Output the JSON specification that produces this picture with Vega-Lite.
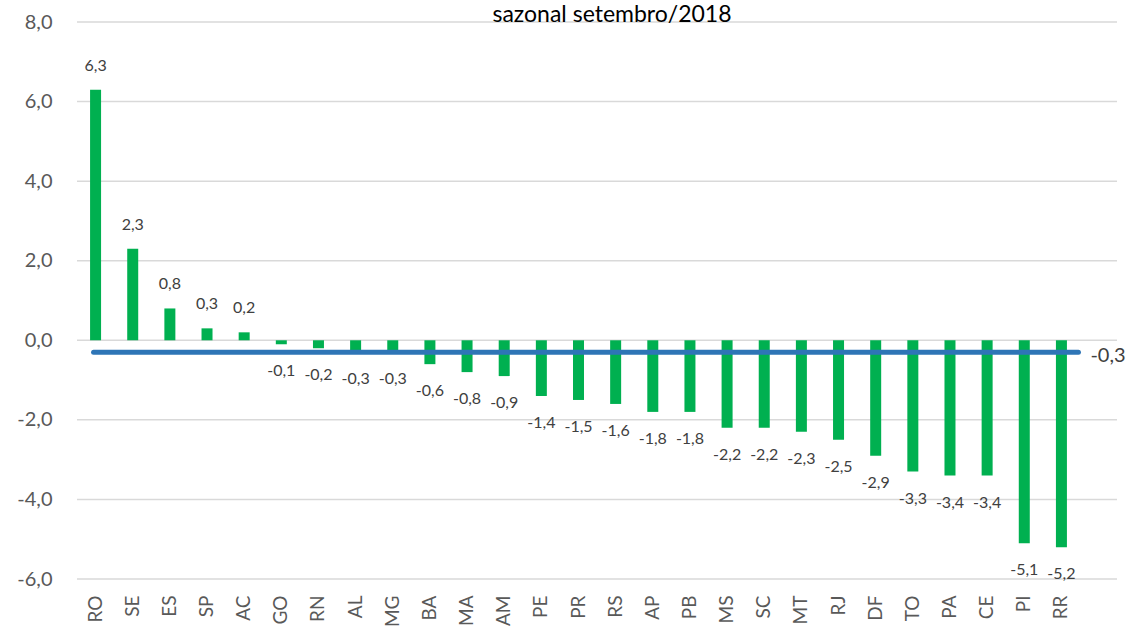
{
  "$schema": "https://vega.github.io/schema/vega-lite/v6.json",
  "autosize": {"type": "none"},
  "width": 1040,
  "height": 557,
  "padding": {"left": 77, "top": 22, "right": 15, "bottom": 52},
  "config": {
    "locale": {"number": {"decimal": ",", "thousands": ".", "grouping": [3], "currency": ["R$", ""], "minus": "-"}},
    "font": "Lato",
    "view": {"stroke": null}
  },
  "title": {"text": "sazonal  setembro/2018", "fontSize": 23, "font": "Lato", "fontWeight": "normal", "color": "#000000", "offset": 0, "baseline": "alphabetic", "dx": 15, "dy": 33},
  "datasets": {
    "grid": [{"g": -6}, {"g": -4}, {"g": -2}, {"g": 0}, {"g": 2}, {"g": 4}, {"g": 6}, {"g": 8}]
  },
  "data": {
    "values": [
      {"uf": "RO", "v": 6.3}, {"uf": "SE", "v": 2.3}, {"uf": "ES", "v": 0.8}, {"uf": "SP", "v": 0.3},
      {"uf": "AC", "v": 0.2}, {"uf": "GO", "v": -0.1}, {"uf": "RN", "v": -0.2}, {"uf": "AL", "v": -0.3},
      {"uf": "MG", "v": -0.3}, {"uf": "BA", "v": -0.6}, {"uf": "MA", "v": -0.8}, {"uf": "AM", "v": -0.9},
      {"uf": "PE", "v": -1.4}, {"uf": "PR", "v": -1.5}, {"uf": "RS", "v": -1.6}, {"uf": "AP", "v": -1.8},
      {"uf": "PB", "v": -1.8}, {"uf": "MS", "v": -2.2}, {"uf": "SC", "v": -2.2}, {"uf": "MT", "v": -2.3},
      {"uf": "RJ", "v": -2.5}, {"uf": "DF", "v": -2.9}, {"uf": "TO", "v": -3.3}, {"uf": "PA", "v": -3.4},
      {"uf": "CE", "v": -3.4}, {"uf": "PI", "v": -5.1}, {"uf": "RR", "v": -5.2}
    ]
  },
  "layer": [
    {
      "data": {"name": "grid"},
      "mark": {"type": "rule", "color": "#d9d9d9", "strokeWidth": 1.5},
      "encoding": {
        "y": {"field": "g", "type": "quantitative", "scale": {"domain": [-6, 8], "nice": false},
          "axis": {"title": null, "values": [-6, -4, -2, 0, 2, 4, 6, 8], "format": ".1f", "labelFontSize": 20, "labelColor": "#595959", "domain": false, "ticks": false, "labelPadding": 25, "grid": false}}
      }
    },
    {
      "mark": {"type": "bar", "color": "#00b050", "size": 11},
      "encoding": {
        "x": {
          "field": "uf", "type": "nominal", "sort": null,
          "scale": {"domain": ["RO","SE","ES","SP","AC","GO","RN","AL","MG","BA","MA","AM","PE","PR","RS","AP","PB","MS","SC","MT","RJ","DF","TO","PA","CE","PI","RR"], "range": [0, 1003], "paddingInner": 0, "paddingOuter": 0},
          "axis": {"title": null, "labelAngle": 270, "labelFontSize": 19, "labelColor": "#595959", "domain": false, "ticks": false, "labelPadding": 16, "grid": false}
        },
        "y": {"field": "v", "type": "quantitative"}
      }
    },
    {
      "transform": [{"filter": "datum.v >= 0"}],
      "mark": {"type": "text", "fontSize": 16, "color": "#404040", "baseline": "middle", "dy": -24},
      "encoding": {
        "x": {"field": "uf", "type": "nominal", "sort": null},
        "y": {"field": "v", "type": "quantitative"},
        "text": {"field": "v", "type": "quantitative", "format": ".1f"}
      }
    },
    {
      "transform": [{"filter": "datum.v < 0"}],
      "mark": {"type": "text", "fontSize": 16, "color": "#404040", "baseline": "middle", "dy": 27},
      "encoding": {
        "x": {"field": "uf", "type": "nominal", "sort": null},
        "y": {"field": "v", "type": "quantitative"},
        "text": {"field": "v", "type": "quantitative", "format": ".1f"}
      }
    },
    {
      "data": {"values": [{"m": -0.3, "a": "RO", "b": "RR"}]},
      "mark": {"type": "rule", "color": "#2e75b6", "strokeWidth": 5, "strokeCap": "round", "xOffset": -2, "x2Offset": 17},
      "encoding": {
        "x": {"field": "a", "type": "nominal", "sort": null},
        "x2": {"field": "b"},
        "y": {"field": "m", "type": "quantitative"}
      }
    },
    {
      "data": {"values": [{"m": -0.3, "b": "RR"}]},
      "mark": {"type": "text", "fontSize": 20, "color": "#404040", "align": "left", "baseline": "middle", "dx": 29, "dy": 4},
      "encoding": {
        "x": {"field": "b", "type": "nominal", "sort": null},
        "y": {"field": "m", "type": "quantitative"},
        "text": {"field": "m", "type": "quantitative", "format": ".1f"}
      }
    }
  ]
}
